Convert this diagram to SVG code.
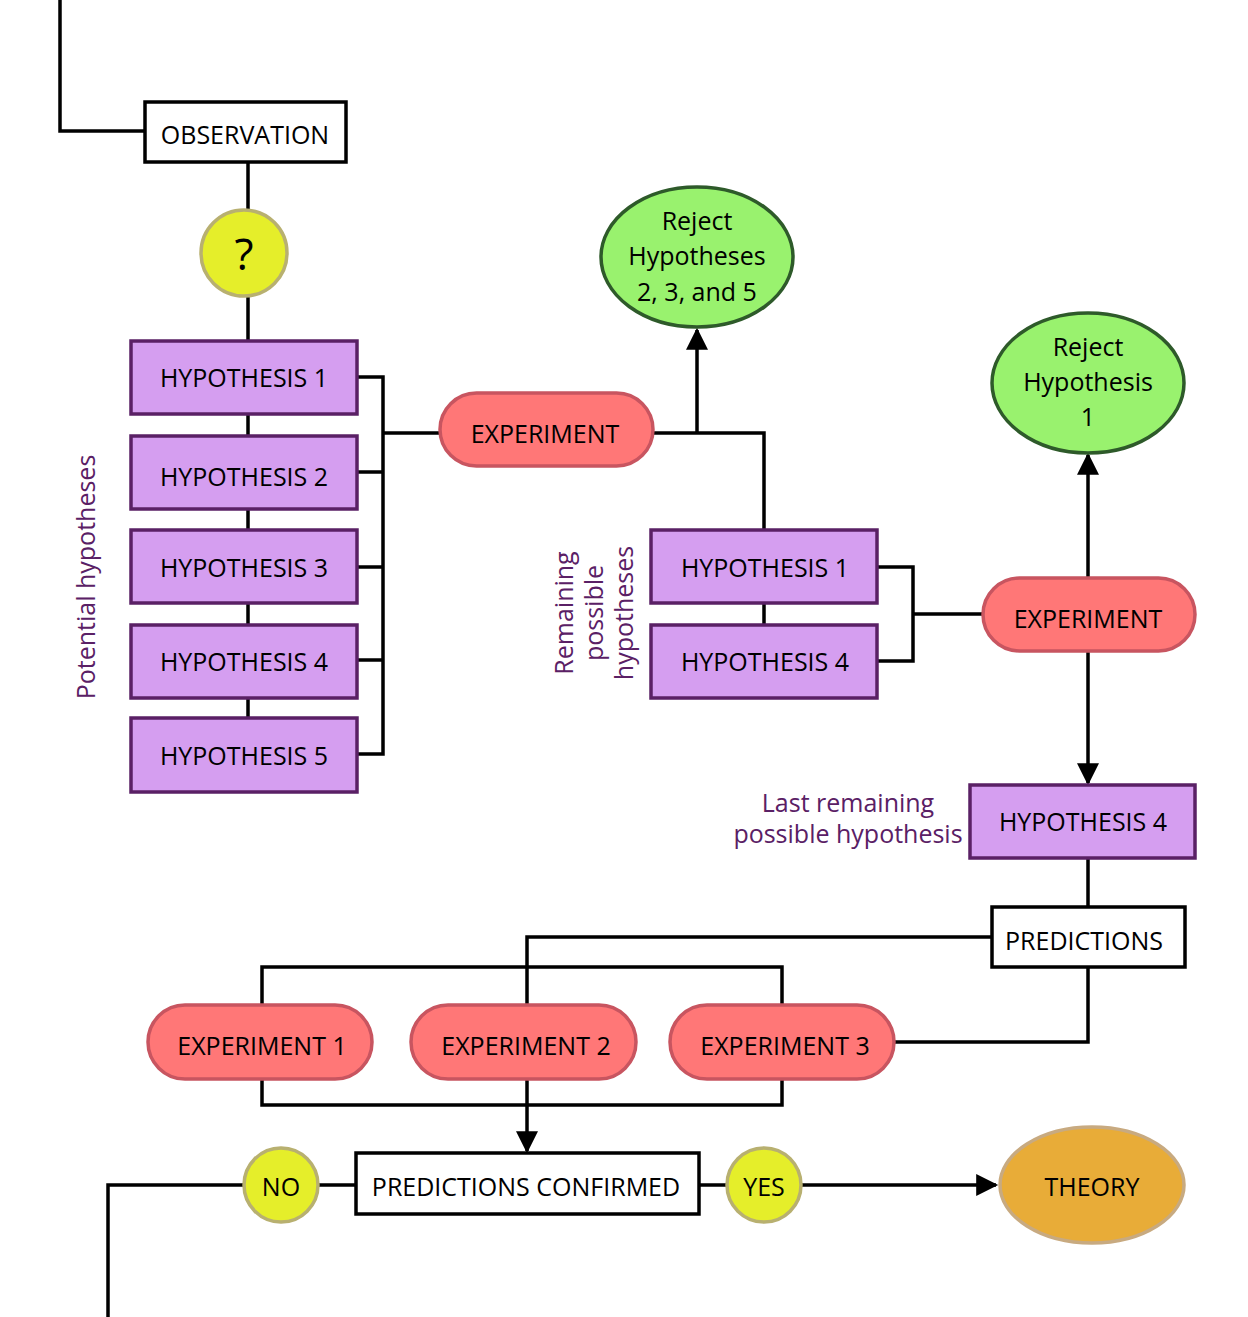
<svg xmlns="http://www.w3.org/2000/svg" width="1248" height="1317" viewBox="0 0 1248 1317">
<style>
text{font-family:"Open Sans","Liberation Sans",sans-serif;font-size:25px;fill:#000;text-anchor:middle;dominant-baseline:central}
.h{fill:#d59ef0;stroke:#5a2065;stroke-width:3.5}
.e{fill:#ff7777;stroke:#c85560;stroke-width:3.5}
.w{fill:#fff;stroke:#000;stroke-width:3.5}
.g{fill:#99f26e;stroke:#2e5a2a;stroke-width:3.5}
.y{fill:#e5ee2a;stroke:#b8b070;stroke-width:3.5}
.l{fill:none;stroke:#000;stroke-width:3.5}
.p{fill:#5a2065}
</style>
<defs><marker id="a" viewBox="0 0 10 10" refX="10" refY="5" markerWidth="7" markerHeight="6" orient="auto" markerUnits="userSpaceOnUse"><path d="M0,0L10,5L0,10z"/></marker>
<marker id="b" viewBox="0 0 10 10" refX="9" refY="5" markerWidth="24" markerHeight="22" orient="auto" markerUnits="userSpaceOnUse"><path d="M0,0L10,5L0,10z"/></marker></defs>
<g id="connectors">
<path class="l" d="M60,0V131H145"/>
<path class="l" d="M248,162V341M248,414V436M248,509V530M248,603V625M248,698V718"/>
<path class="l" d="M357,377H383V754H357M357,472H383M357,567H383M357,660H383M383,433H440"/>
<path class="l" d="M653,433H764V530M764,603V625M697,433V330" marker-end="url(#b)"/>
<path class="l" d="M877,567H913V661H877M913,614H983"/>
<path class="l" d="M1088,578V455" marker-end="url(#b)"/>
<path class="l" d="M1088,651V783" marker-end="url(#b)"/>
<path class="l" d="M1088,858V907M992,937H527V1005M1088,967V1042H895"/>
<path class="l" d="M262,1005V967H782V1005M262,1079V1105H782V1079"/>
<path class="l" d="M527,1079V1151" marker-end="url(#b)"/>
<path class="l" d="M356,1185H318M244,1185H108V1317M699,1185H727"/>
<path class="l" d="M801,1185H996" marker-end="url(#b)"/>
</g>
<g id="observation"><rect class="w" x="145" y="102" width="201" height="60"/><text x="245" y="134">OBSERVATION</text></g>
<g id="question"><circle class="y" cx="244" cy="253" r="43"/><text x="244" y="253" style="font-size:44px">?</text></g>
<g id="h1"><rect class="h" x="131" y="341" width="226" height="73"/><text x="244" y="377">HYPOTHESIS 1</text></g>
<g id="h2"><rect class="h" x="131" y="436" width="226" height="73"/><text x="244" y="476">HYPOTHESIS 2</text></g>
<g id="h3"><rect class="h" x="131" y="530" width="226" height="73"/><text x="244" y="567">HYPOTHESIS 3</text></g>
<g id="h4"><rect class="h" x="131" y="625" width="226" height="73"/><text x="244" y="661">HYPOTHESIS 4</text></g>
<g id="h5"><rect class="h" x="131" y="718" width="226" height="74"/><text x="244" y="755">HYPOTHESIS 5</text></g>
<g id="lbl1"><text class="p" transform="translate(85,577) rotate(-90)">Potential hypotheses</text></g>
<g id="exp1"><rect class="e" x="440" y="393" width="213" height="73" rx="36.5"/><text x="545" y="433">EXPERIMENT</text></g>
<g id="reject1"><ellipse class="g" cx="697" cy="257" rx="96" ry="70"/><text x="697" y="220">Reject</text><text x="697" y="255">Hypotheses</text><text x="697" y="291">2, 3, and 5</text></g>
<g id="lbl2"><text class="p" transform="translate(563,613) rotate(-90)">Remaining</text><text class="p" transform="translate(593,613) rotate(-90)">possible</text><text class="p" transform="translate(623,613) rotate(-90)">hypotheses</text></g>
<g id="hb1"><rect class="h" x="651" y="530" width="226" height="73"/><text x="765" y="567">HYPOTHESIS 1</text></g>
<g id="hb4"><rect class="h" x="651" y="625" width="226" height="73"/><text x="765" y="661">HYPOTHESIS 4</text></g>
<g id="exp2"><rect class="e" x="983" y="578" width="212" height="73" rx="36.5"/><text x="1088" y="618">EXPERIMENT</text></g>
<g id="reject2"><ellipse class="g" cx="1088" cy="383" rx="96" ry="70"/><text x="1088" y="346">Reject</text><text x="1088" y="381">Hypothesis</text><text x="1088" y="416">1</text></g>
<g id="hc4"><rect class="h" x="970" y="785" width="225" height="73"/><text x="1083" y="821">HYPOTHESIS 4</text></g>
<g id="lbl3"><text class="p" x="848" y="802">Last remaining</text><text class="p" x="848" y="833">possible hypothesis</text></g>
<g id="predictions"><rect class="w" x="992" y="907" width="193" height="60"/><text x="1084" y="940">PREDICTIONS</text></g>
<g id="e1"><rect class="e" x="148" y="1005" width="224" height="74" rx="37"/><text x="262" y="1045">EXPERIMENT 1</text></g>
<g id="e2"><rect class="e" x="411" y="1005" width="225" height="74" rx="37"/><text x="526" y="1045">EXPERIMENT 2</text></g>
<g id="e3"><rect class="e" x="670" y="1005" width="224" height="74" rx="37"/><text x="785" y="1045">EXPERIMENT 3</text></g>
<g id="confirmed"><rect class="w" x="356" y="1153" width="343" height="61"/><text x="526" y="1186">PREDICTIONS CONFIRMED</text></g>
<g id="no"><circle class="y" cx="281" cy="1185" r="37"/><text x="281" y="1186">NO</text></g>
<g id="yes"><circle class="y" cx="764" cy="1185" r="37"/><text x="764" y="1186">YES</text></g>
<g id="theory"><ellipse fill="#e8ac38" stroke="#c8aa80" stroke-width="3.5" cx="1092" cy="1185" rx="92" ry="58"/><text x="1092" y="1186">THEORY</text></g>
</svg>
